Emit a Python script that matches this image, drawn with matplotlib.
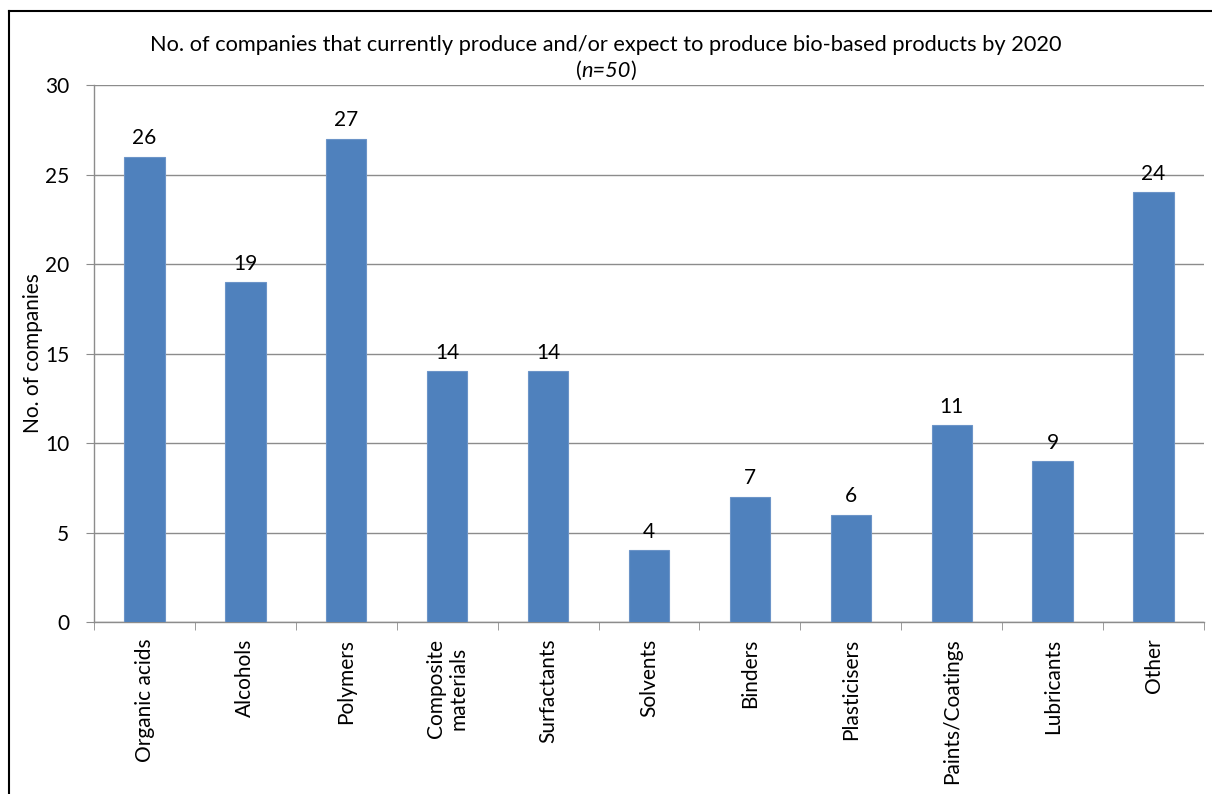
import matplotlib

matplotlib.use("Agg")
import matplotlib.pyplot as plt
import numpy as np
from matplotlib.lines import Line2D

plt.rcParams["font.family"] = ["Lato", "DejaVu Sans"]

categories = [
    "Organic acids",
    "Alcohols",
    "Polymers",
    "Composite\nmaterials",
    "Surfactants",
    "Solvents",
    "Binders",
    "Plasticisers",
    "Paints/Coatings",
    "Lubricants",
    "Other",
]
companies = [26, 19, 27, 14, 14, 4, 7, 6, 11, 9, 24]
y_ticks = [0, 5, 10, 15, 20, 25, 30]

BAR_COLOR = "#4F81BD"
GRID_COLOR = "#8C8C8C"
FS = 15
TITLE_FS = 15.7

fig = plt.figure(figsize=(12.12, 7.94), dpi=100)
ax = fig.add_axes([0.0776, 0.2166, 0.9158, 0.6763])

x = np.arange(len(categories))
bars = ax.bar(x, companies, width=0.4, color=BAR_COLOR, edgecolor="#6C94C8", linewidth=0.8, zorder=3)

for rect, value in zip(bars, companies):
    ax.annotate(
        str(value),
        (rect.get_x() + rect.get_width() / 2, rect.get_height()),
        xytext=(0, 6),
        textcoords="offset points",
        ha="center",
        va="bottom",
        fontsize=FS,
    )

ax.set_xlim(-0.5, len(categories) - 0.5)
ax.set_ylim(0, 30)
ax.set_yticks(y_ticks)
ax.tick_params(axis="y", labelsize=FS, length=6, color=GRID_COLOR, pad=12)
ax.yaxis.grid(True, color=GRID_COLOR, linewidth=1.0, zorder=0)
ax.set_axisbelow(True)

# category labels centred under bars, tick marks between categories
ax.set_xticks(x)
ax.set_xticklabels(categories, rotation=90, fontsize=FS, va="top", ha="center", linespacing=1.15)
ax.tick_params(axis="x", length=0, pad=12)
ax.set_xticks(np.arange(len(categories) + 1) - 0.5, minor=True)
ax.tick_params(axis="x", which="minor", length=6, color=GRID_COLOR)

for side in ("top", "right"):
    ax.spines[side].set_visible(False)
for side in ("left", "bottom"):
    ax.spines[side].set_color(GRID_COLOR)
    ax.spines[side].set_linewidth(1.0)

ax.set_ylabel("No. of companies", fontsize=FS, va="center")
ax.yaxis.set_label_coords(-0.055, 0.5)

fig.text(0.5, 0.943, "No. of companies that currently produce and/or expect to produce bio-based products by 2020",
         ha="center", va="center", fontsize=TITLE_FS)

# second title line: "(n=50)" with the n=50 part in italics
y2 = 0.911
fig.canvas.draw()
renderer = fig.canvas.get_renderer()
parts = [("(", "normal"), ("n=50", "italic"), (")", "normal")]
texts = [fig.text(0, y2, s, ha="left", va="center", fontsize=TITLE_FS, style=st) for s, st in parts]
widths = [t.get_window_extent(renderer).width for t in texts]
x0 = fig.bbox.width / 2 - sum(widths) / 2
for t, w in zip(texts, widths):
    t.set_x(x0 / fig.bbox.width)
    x0 += w

# outer frame (top and left edges visible)
fig.add_artist(Line2D([9 / 1212, 1.0], [1 - 11 / 794, 1 - 11 / 794], color="black", linewidth=1.5,
                      transform=fig.transFigure))
fig.add_artist(Line2D([9 / 1212, 9 / 1212], [0.0, 1 - 11 / 794], color="black", linewidth=1.5,
                      transform=fig.transFigure))

fig.savefig("out.png", dpi=100)
